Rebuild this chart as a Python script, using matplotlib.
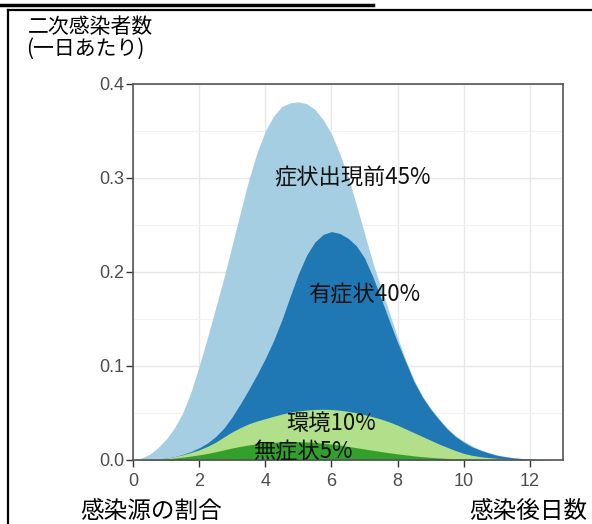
import numpy as np
import matplotlib.pyplot as plt
from matplotlib.lines import Line2D

plt.rcParams['font.family'] = ['Noto Sans CJK JP', 'DejaVu Sans']

# 感染後日数 (cada 0.25 día)
dias = np.arange(0, 13.01, 0.25)

# borde superior de cada capa apilada
tope_total = [0, 0.002, 0.006, 0.013, 0.022, 0.034, 0.05, 0.072, 0.1, 0.13,
              0.162, 0.194, 0.229, 0.264, 0.298, 0.327, 0.35, 0.366, 0.376,
              0.38, 0.381, 0.379, 0.373, 0.362, 0.347, 0.326, 0.302, 0.272,
              0.241, 0.21, 0.183, 0.157, 0.13, 0.106, 0.085, 0.068, 0.055,
              0.044, 0.034, 0.026, 0.02, 0.015, 0.011, 0.008, 0.0055, 0.0038,
              0.0025, 0.0016, 0.001, 0.0006, 0.0003, 0.0001, 0]
tope_sintomas = [0, 0.0002, 0.0006, 0.0012, 0.002, 0.0035, 0.006, 0.009,
                 0.013, 0.018, 0.025, 0.034, 0.046, 0.06, 0.075, 0.091, 0.108,
                 0.127, 0.149, 0.174, 0.198, 0.218, 0.232, 0.24, 0.243, 0.241,
                 0.236, 0.228, 0.215, 0.195, 0.172, 0.148, 0.125, 0.104,
                 0.083, 0.067, 0.054, 0.043, 0.033, 0.025, 0.019, 0.014,
                 0.0105, 0.0075, 0.005, 0.0035, 0.0023, 0.0015, 0.0009,
                 0.0005, 0.0002, 0.0001, 0]
tope_ambiente = [0, 0.0001, 0.0004, 0.001, 0.002, 0.0035, 0.0055, 0.008,
                 0.0108, 0.0145, 0.019, 0.0245, 0.03, 0.0345, 0.0385, 0.0415,
                 0.044, 0.0465, 0.0488, 0.0508, 0.0522, 0.0532, 0.0538, 0.054,
                 0.0537, 0.053, 0.0518, 0.0502, 0.0482, 0.046, 0.0435, 0.0405,
                 0.037, 0.033, 0.029, 0.025, 0.021, 0.017, 0.0135, 0.01,
                 0.007, 0.005, 0.0036, 0.0026, 0.0018, 0.0012, 0.0008, 0.0005,
                 0.0003, 0.0002, 0.0001, 0, 0]
tope_asintomatico = [0, 0.0001, 0.0003, 0.0007, 0.0012, 0.002, 0.003, 0.0042,
                     0.0055, 0.007, 0.0088, 0.0108, 0.0128, 0.0145, 0.016,
                     0.0172, 0.0181, 0.0188, 0.0193, 0.0195, 0.0195, 0.0192,
                     0.0187, 0.0179, 0.017, 0.0158, 0.0145, 0.0131, 0.0117,
                     0.0103, 0.009, 0.0077, 0.0065, 0.0054, 0.0044, 0.0035,
                     0.0028, 0.0022, 0.0017, 0.0013, 0.001, 0.0007, 0.0005,
                     0.0003, 0.0002, 0.0001, 0, 0, 0, 0, 0, 0, 0]

capas = [tope_total, tope_sintomas, tope_ambiente, tope_asintomatico]
colores = ['#a6cee3', '#1f78b4', '#b2df8a', '#33a02c']
etiquetas = ['症状出現前45%', '有症状40%', '環境10%', '無症状5%']
pos_etiquetas = [(6.63, 0.300), (6.99, 0.1755), (6.0, 0.039), (5.15, 0.009)]

fig = plt.figure(figsize=(5.92, 5.24), dpi=100)
ax = fig.add_axes([133 / 592, 1 - 460 / 524, 430 / 592, 376 / 524])

for tope, color in zip(capas, colores):
    ax.fill_between(dias, 0, tope, color=color, linewidth=0)

for texto, (x, y) in zip(etiquetas, pos_etiquetas):
    ax.text(x, y, texto, fontsize=16, ha='center', va='center', color='#111111')

ax.set_xlim(0, 13)
ax.set_ylim(0, 0.4)
ax.set_xticks(range(0, 13, 2))
ax.set_yticks([0, 0.1, 0.2, 0.3, 0.4])
ax.set_yticklabels(['0.0', '0.1', '0.2', '0.3', '0.4'])
ax.set_yticks([0.05, 0.15, 0.25, 0.35], minor=True)
ax.tick_params(axis='y', which='minor', length=0)
ax.tick_params(which='major', length=5, width=1, color='#333333',
               labelcolor='#4d4d4d', labelsize=13)
ax.tick_params(axis='y', pad=1)
ax.tick_params(axis='x', pad=4)
for lab in ax.get_xticklabels() + ax.get_yticklabels():
    lab.set_family(['Liberation Sans', 'DejaVu Sans'])
ax.grid(True, which='major', color='#e8e8e8', linewidth=1)
ax.grid(True, which='minor', axis='y', color='#f2f2f2', linewidth=0.8)
ax.set_axisbelow(True)
for sp in ax.spines.values():
    sp.set_color('#555555')
    sp.set_linewidth(1.2)

fig.text(28 / 592, 1 - 27 / 524, '二次感染者数', fontsize=15, va='center', ha='left')
fig.text(26 / 592, 1 - 49 / 524, '(一日あたり)', fontsize=15, va='center', ha='left')
fig.text(80 / 592, 1 - 511 / 524, '感染源の割合', fontsize=17, va='center', ha='left')
fig.text(587 / 592, 1 - 511 / 524, '感染後日数', fontsize=17, va='center', ha='right')

# marco
fig.add_artist(Line2D([0, 373 / 592], [1 - 5 / 524] * 2, color='black', linewidth=2.5))
fig.add_artist(Line2D([8 / 592, 1], [1 - 10 / 524] * 2, color='black', linewidth=1.6))
fig.add_artist(Line2D([8 / 592] * 2, [0, 1 - 10 / 524], color='black', linewidth=1.6))

fig.savefig('out.png', dpi=100)
